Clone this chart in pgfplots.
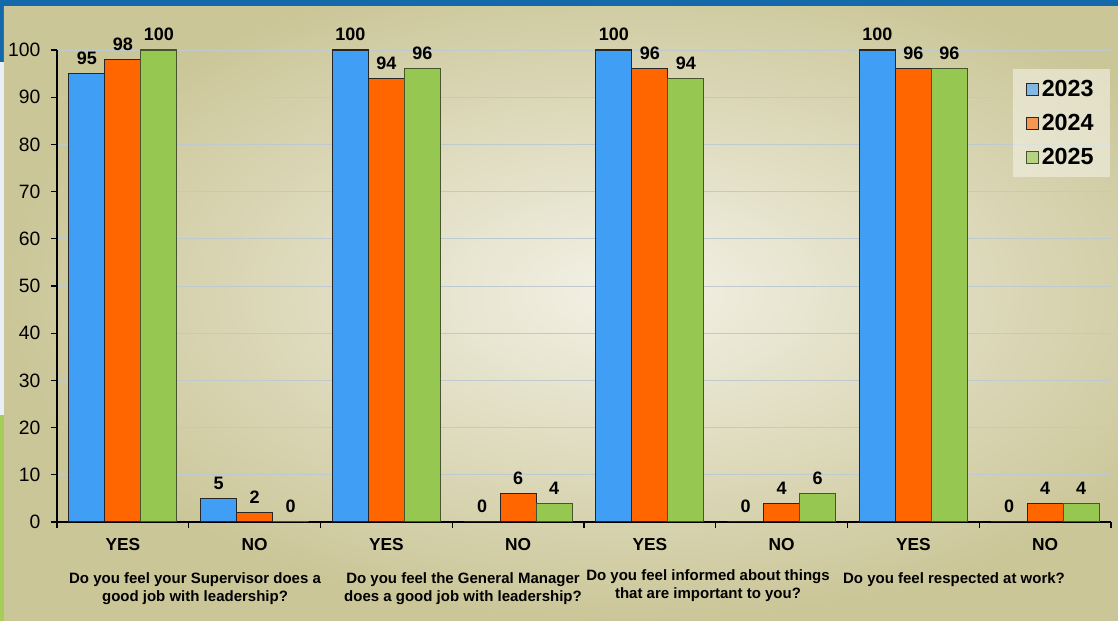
\documentclass[border=0pt]{standalone}
\usepackage{pgfplots}
\pgfplotsset{compat=1.18}
\usepackage{fontspec}
\setmainfont{Liberation Sans}
\definecolor{bblue}{RGB}{64,158,245}
\definecolor{borange}{RGB}{255,102,0}
\definecolor{bgreen}{RGB}{150,199,80}
\definecolor{bgreenedge}{RGB}{70,85,45}
\definecolor{topblue}{RGB}{20,105,170}
\definecolor{bglight}{RGB}{243,241,230}
\definecolor{bgdark}{RGB}{203,198,152}
\definecolor{gridc}{RGB}{190,202,205}
\definecolor{stripl}{RGB}{232,240,246}
\definecolor{stripg}{RGB}{166,204,90}
\begin{document}
\begin{tikzpicture}
% background (1 px = 0.75pt), axis origin at pixel (57,522)
\fill[topblue] (-42.75pt,-74.25pt) rectangle (795.75pt,391.5pt);
\begin{scope}
\clip (-39.75pt,-74.25pt) rectangle (795.75pt,386.25pt);
\fill[bgdark] (-39.75pt,-74.25pt) rectangle (795.75pt,386.25pt);
\shade[inner color=bglight, outer color=bgdark] (-39.75pt,-74.25pt) rectangle (900pt,420pt);
\end{scope}
\fill[stripl] (-42.75pt,-74.25pt) rectangle (-39.75pt,345pt);
\fill[stripg] (-42.75pt,-74.25pt) rectangle (-39.75pt,80pt);
\begin{axis}[
  at={(0,0)}, anchor=south west,
  scale only axis, width=790.5pt, height=354pt,
  xmin=-0.5, xmax=7.5, ymin=0, ymax=100,
  ybar=0pt, bar width=27pt,
  axis x line*=bottom, axis y line*=left,
  axis line style={black, line width=0.9pt},
  xtick={-0.5,0.5,...,7.5},
  xticklabels={YES,NO,YES,NO,YES,NO,YES,NO},
  x tick label as interval,
  ytick={0,10,...,100},
  tick align=outside,
  major tick length=4.5pt,
  tick style={black, line width=0.9pt},
  ymajorgrids, grid style={gridc, line width=0.6pt},
  /pgf/number format/assume math mode=true,
  x tick label style={font=\bfseries\fontsize{13}{15}\selectfont, yshift=-4pt},
  y tick label style={font=\fontsize{14.5}{16}\selectfont, xshift=-4.5pt},
  nodes near coords,
  every node near coord/.append style={font=\bfseries\fontsize{13.5}{15}\selectfont, black, yshift=3pt},
  legend style={at={(rel axis cs:0.999,0.96)}, anchor=north east,
    fill=bglight, fill opacity=0.6, text opacity=1, draw=none,
    font=\bfseries\fontsize{17.5}{20}\selectfont, row sep=8pt,
    inner xsep=10pt, inner ysep=6pt},
  legend cell align=left,
  legend image code/.code={\draw[#1, line width=0.6pt] (0pt,-4.5pt) rectangle (9pt,4.5pt);},
]
\addplot[fill=bblue, draw=black!85, line width=0.9pt] coordinates {(0,95) (1,5) (2,100) (3,0) (4,100) (5,0) (6,100) (7,0)};
\addplot[fill=borange, draw=black!85, line width=0.9pt] coordinates {(0,98) (1,2) (2,94) (3,6) (4,96) (5,4) (6,96) (7,4)};
\addplot[fill=bgreen, draw=bgreenedge, line width=0.9pt] coordinates {(0,100) (1,0) (2,96) (3,4) (4,94) (5,6) (6,96) (7,4)};
\legend{2023,2024,2025}
\end{axis}
\begin{scope}[every node/.style={font=\bfseries\fontsize{11.25}{13.5}\selectfont, align=center, anchor=north, inner sep=0pt}]
\node at (103.5pt,-38pt) {Do you feel your Supervisor does a\\good job with leadership?};
\node at (304.5pt,-38pt) {Do you feel the General Manager\\does a good job with leadership?};
\node at (488.25pt,-35.5pt) {Do you feel informed about things\\that are important to you?};
\node at (672.75pt,-38pt) {Do you feel respected at work?};
\end{scope}
\end{tikzpicture}
\end{document}
